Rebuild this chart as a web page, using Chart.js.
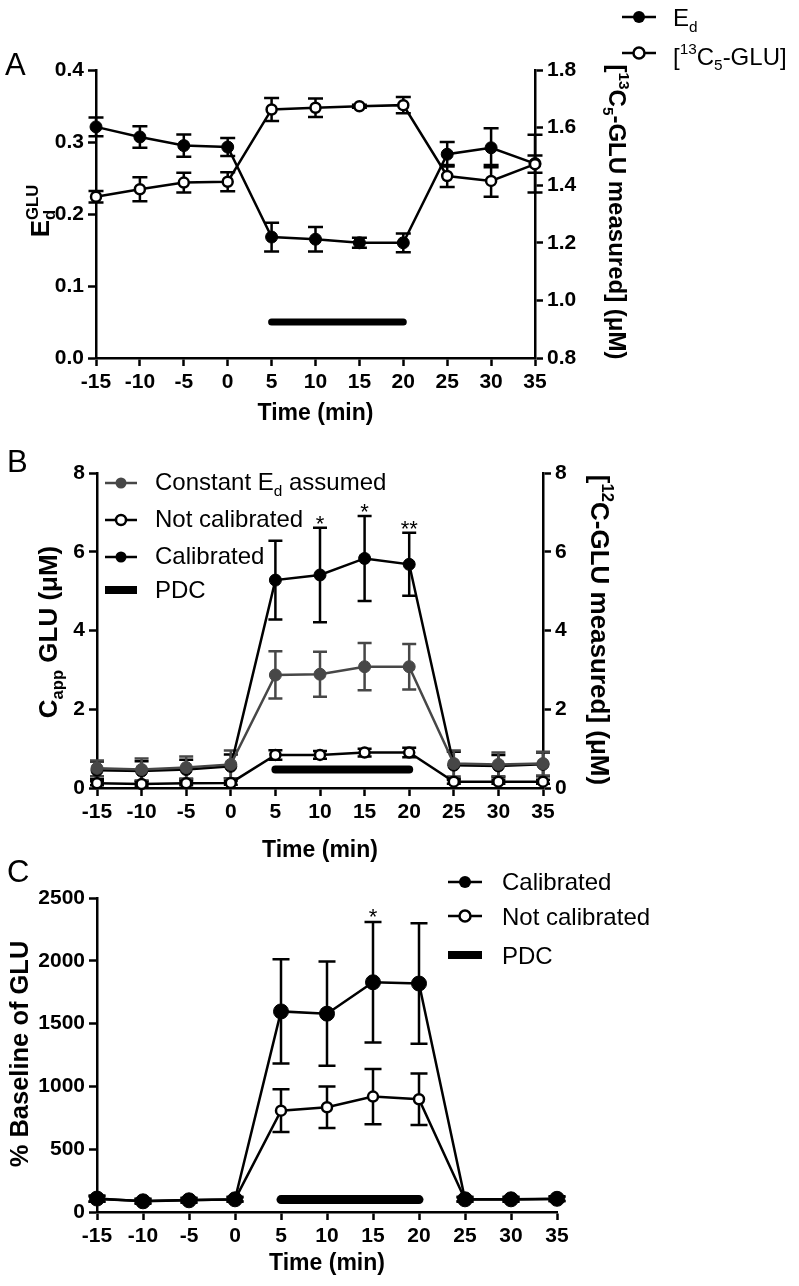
<!DOCTYPE html>
<html><head><meta charset="utf-8">
<script src="https://cdn.jsdelivr.net/npm/chart.js@4.4.1/dist/chart.umd.min.js"></script>
<style>
html,body{margin:0;padding:0;background:#fff;}
#wrap{position:relative;width:799px;height:1286px;overflow:hidden;background:#fff;}
canvas{position:absolute;left:0;}
</style></head>
<body><div id="wrap">
<canvas id="cA" width="799" height="440" style="top:0px"></canvas>
<canvas id="cB" width="799" height="450" style="top:420px"></canvas>
<canvas id="cC" width="799" height="436" style="top:850px"></canvas>
</div>
<script>
// ---------- DATA ----------
const timeMin = [-15,-10,-5,0,5,10,15,20,25,30,35];
const xTicks  = [-15,-10,-5,0,5,10,15,20,25,30,35];
// Panel A
const aEdMean  = [0.321,0.307,0.295,0.293,0.168,0.165,0.160,0.160,0.283,0.292,0.270];
const aEdErr   = [0.013,0.015,0.0155,0.0125,0.020,0.017,0.007,0.013,0.017,0.027,0.040];
const aGluMean = [1.360,1.386,1.409,1.412,1.663,1.669,1.674,1.678,1.432,1.415,1.473];
const aGluErr  = [0.020,0.042,0.034,0.033,0.040,0.032,0.005,0.028,0.038,0.055,0.030];
const aLeftTicks  = [0,0.1,0.2,0.3,0.4];
const aRightTicks = [0.8,1.0,1.2,1.4,1.6,1.8];
// Panel B
const bConstMean  = [0.50,0.47,0.52,0.60,2.87,2.89,3.08,3.08,0.62,0.60,0.62];
const bConstErr   = [0.20,0.28,0.28,0.35,0.60,0.57,0.60,0.58,0.33,0.30,0.30];
const bNotCalMean = [0.12,0.10,0.12,0.13,0.84,0.84,0.90,0.90,0.16,0.16,0.16];
const bNotCalErr  = [0.05,0.05,0.05,0.05,0.12,0.10,0.10,0.12,0.05,0.05,0.05];
const bCalMean    = [0.45,0.43,0.47,0.55,5.28,5.41,5.83,5.68,0.58,0.56,0.60];
const bCalErr     = [0.22,0.25,0.25,0.30,1.00,1.20,1.08,0.80,0.34,0.28,0.30];
const bTicks = [0,2,4,6,8];
const bStarTimes = [10,15,20];
const bStarLabels = ['*','*','**'];
// Panel C
const cCalMean    = [107,85,93,101,1597,1579,1829,1819,101,101,105];
const cCalErr     = [25,20,20,20,415,415,480,480,20,20,20];
const cNotCalMean = [103,88,95,100,807,834,919,898,100,100,104];
const cNotCalErr  = [20,15,15,15,170,165,220,205,15,15,15];
const cTicks = [0,500,1000,1500,2000,2500];
const cStarTimes = [15];
const cStarLabels = ['*'];
// PDC application period
const pdcStartEnd = [5,20];
const aPdcLevel = 0.05, bPdcLevel = 0.47, cPdcLevel = 99;

// ---------- HELPERS ----------
const FF = '"Liberation Sans", Arial, Helvetica, sans-serif';
const tickFont = {family: FF, size: 21, weight: 'bold'};
const GRAY = '#474747';

function rich(ctx, segs, x, y, size, bold, rot, align){
  ctx.save();
  ctx.translate(x,y); ctx.rotate(rot||0);
  ctx.fillStyle='#000'; ctx.textBaseline='alphabetic'; ctx.textAlign='left';
  const wt = bold ? 'bold ' : '';
  const parts = segs.map(([t,m])=>{
    const sz = m==='n' ? size : size*0.64;
    ctx.font = wt + sz + 'px ' + FF;
    return {t, m, sz, w: ctx.measureText(t).width};
  });
  let total = 0;
  parts.forEach(p=>{ if(p.m!=='sub0') total += p.w; });
  let cx = align==='center' ? -total/2 : 0;
  parts.forEach(p=>{
    ctx.font = wt + p.sz + 'px ' + FF;
    let dy = 0;
    if(p.m==='sup') dy = -size*0.42;
    if(p.m==='sub' || p.m==='sub0') dy = size*0.24;
    ctx.fillText(p.t, cx, dy);
    if(p.m!=='sub0') cx += p.w;
  });
  ctx.restore();
}
function legendRow(ctx, x1, x2, y, kind, color, r){
  ctx.save();
  if(kind==='bar'){ ctx.fillStyle='#000'; ctx.fillRect(x1, y-4, x2-x1, 8); }
  else {
    ctx.strokeStyle=color; ctx.lineWidth=2.5;
    ctx.beginPath(); ctx.moveTo(x1,y); ctx.lineTo(x2,y); ctx.stroke();
    ctx.beginPath(); ctx.arc((x1+x2)/2, y, r, 0, Math.PI*2);
    if(kind==='open'){ ctx.fillStyle='#fff'; ctx.fill(); ctx.strokeStyle='#000'; ctx.lineWidth=2.5; ctx.stroke(); }
    else { ctx.fillStyle=color; ctx.fill(); }
  }
  ctx.restore();
}
function errPlugin(specs){
  return {id:'errbars', beforeDatasetsDraw(chart){
    const ctx = chart.ctx, xs = chart.scales.x;
    specs.forEach(s=>{
      const ys = chart.scales[s.axis];
      ctx.save(); ctx.strokeStyle = s.color; ctx.lineWidth = s.lw; ctx.lineCap='butt';
      s.mean.forEach((m,i)=>{
        const e = s.err[i];
        const px = xs.getPixelForValue(timeMin[i]);
        const t = ys.getPixelForValue(m+e), b = ys.getPixelForValue(m-e);
        ctx.beginPath();
        ctx.moveTo(px,t); ctx.lineTo(px,b);
        ctx.moveTo(px-s.cap/2,t); ctx.lineTo(px+s.cap/2,t);
        ctx.moveTo(px-s.cap/2,b); ctx.lineTo(px+s.cap/2,b);
        ctx.stroke();
      });
      ctx.restore();
    });
  }};
}
function starsDraw(ctx, chart, times, labels, mean, err, axis, gap){
  const xs = chart.scales.x, ys = chart.scales[axis];
  ctx.save(); ctx.fillStyle='#000'; ctx.textAlign='center'; ctx.textBaseline='alphabetic';
  ctx.font = '22px ' + FF;
  times.forEach((t,k)=>{
    const i = timeMin.indexOf(t);
    const px = xs.getPixelForValue(t);
    const top = ys.getPixelForValue(mean[i] + err[i]);
    ctx.fillText(labels[k], px, top - gap + 12.5);
  });
  ctx.restore();
}
function textPlugin(fn){ return {id:'txt', afterDraw(chart){ const ctx=chart.ctx; ctx.save(); fn(ctx, chart); ctx.restore(); }}; }

function series(label, mean, axis, o){
  return Object.assign({label, data: mean.map((v,i)=>({x:timeMin[i], y:v})), yAxisID: axis,
    borderColor:'#000', borderWidth:2.5, pointRadius:6, pointBackgroundColor:'#000', pointBorderColor:'#000',
    pointBorderWidth:1, tension:0, clip:false, fill:false}, o);
}
function pdc(level, axis, w){
  return {label:'PDC', data: pdcStartEnd.map(t=>({x:t, y:level})), yAxisID: axis, borderColor:'#000',
    borderWidth:w, pointRadius:0, borderCapStyle:'round', clip:false, order:10};
}
function xScale(){
  return {type:'linear', min:-15, max:35,
    afterBuildTicks: s=>{ s.ticks = xTicks.map(v=>({value:v})); },
    afterFit: s=>{ s.height = 40; },
    ticks:{font:tickFont, color:'#000', padding:4, autoSkip:false, maxRotation:0, callback: v=>String(v)},
    grid:{drawOnChartArea:false, drawTicks:true, tickLength:8, tickColor:'#000', tickWidth:2.5, color:'#000'},
    border:{display:true, color:'#000', width:2.5}};
}
function yScale(pos, min, max, ticksArr, fmt){
  return {type:'linear', position:pos, min, max,
    afterBuildTicks: s=>{ s.ticks = ticksArr.map(v=>({value:v})); },
    afterFit: s=>{ s.width = 60; },
    ticks:{font:tickFont, color:'#000', padding:4, autoSkip:false, callback: fmt},
    grid:{drawOnChartArea:false, drawTicks:true, tickLength:8, tickColor:'#000', tickWidth:2.5, color:'#000'},
    border:{display:true, color:'#000', width:2.5}};
}
const baseOpts = (pad, scales)=>({responsive:false, animation:false, devicePixelRatio:1,
  layout:{padding:pad}, scales, plugins:{legend:{display:false}, tooltip:{enabled:false}}});

// ---------- PANEL A ----------
new Chart(document.getElementById('cA'), {
  type:'line',
  data:{datasets:[
    series('Ed', aEdMean, 'y', {order:2}),
    series('[13C5-GLU]', aGluMean, 'y2', {pointBackgroundColor:'#fff', pointBorderWidth:2.5, pointRadius:5, order:1}),
    pdc(aPdcLevel, 'y', 7)
  ]},
  options: baseOpts({left:36, right:204, top:70, bottom:42}, {
    x: xScale(),
    y: yScale('left', 0, 0.4, aLeftTicks, v=>v.toFixed(1)),
    y2: yScale('right', 0.8, 1.8, aRightTicks, v=>v.toFixed(1))
  }),
  plugins:[
    errPlugin([
      {axis:'y', mean:aEdMean, err:aEdErr, color:'#000', lw:2.5, cap:15},
      {axis:'y2', mean:aGluMean, err:aGluErr, color:'#000', lw:2.5, cap:15}
    ]),
    textPlugin((ctx)=>{
      ctx.fillStyle='#000'; ctx.font='31px '+FF; ctx.fillText('A', 5, 75);
      rich(ctx, [['E','n'],['d','sub0'],['GLU','sup']], 49, 211, 26, true, -Math.PI/2, 'center');
      rich(ctx, [['[','n'],['13','sup'],['C','n'],['5','sub'],['-GLU measured] (μM)','n']], 609, 212, 24, true, Math.PI/2, 'center');
      rich(ctx, [['Time (min)','n']], 315.5, 420, 23, true, 0, 'center');
      legendRow(ctx, 622, 656, 17, 'filled', '#000', 6);
      rich(ctx, [['E','n'],['d','sub']], 673, 26, 24, false, 0, 'left');
      legendRow(ctx, 622, 656, 53, 'open', '#000', 5.5);
      rich(ctx, [['[','n'],['13','sup'],['C','n'],['5','sub'],['-GLU]','n']], 673, 64.5, 24, false, 0, 'left');
    })
  ]
});

// ---------- PANEL B ----------
new Chart(document.getElementById('cB'), {
  type:'line',
  data:{datasets:[
    series('Constant Ed assumed', bConstMean, 'y', {borderColor:GRAY, pointBackgroundColor:GRAY, pointBorderColor:GRAY, order:2}),
    series('Not calibrated', bNotCalMean, 'y2', {pointBackgroundColor:'#fff', pointBorderWidth:2.5, pointRadius:5, order:1}),
    series('Calibrated', bCalMean, 'y', {order:3}),
    pdc(bPdcLevel, 'y', 8)
  ]},
  options: baseOpts({left:37, right:196, top:53, bottom:42}, {
    x: xScale(),
    y: yScale('left', 0, 8, bTicks, v=>String(v)),
    y2: yScale('right', 0, 8, bTicks, v=>String(v))
  }),
  plugins:[
    errPlugin([
      {axis:'y', mean:bCalMean, err:bCalErr, color:'#000', lw:2.5, cap:14},
      {axis:'y', mean:bConstMean, err:bConstErr, color:GRAY, lw:2.5, cap:14},
      {axis:'y2', mean:bNotCalMean, err:bNotCalErr, color:'#000', lw:2.5, cap:14}
    ]),
    textPlugin((ctx, chart)=>{
      ctx.fillStyle='#000'; ctx.font='31px '+FF; ctx.fillText('B', 7, 52);
      rich(ctx, [['C','n'],['app','sub'],[' GLU (μM)','n']], 57, 212, 26, true, -Math.PI/2, 'center');
      rich(ctx, [['[','n'],['12','sup'],['C-GLU measured] (μM)','n']], 591, 210, 26, true, Math.PI/2, 'center');
      rich(ctx, [['Time (min)','n']], 320, 437, 23, true, 0, 'center');
      legendRow(ctx, 105, 137, 63, 'filled', GRAY, 5.5);
      rich(ctx, [['Constant E','n'],['d','sub'],[' assumed','n']], 155, 70, 24, false, 0, 'left');
      legendRow(ctx, 105, 137, 100, 'open', '#000', 5);
      rich(ctx, [['Not calibrated','n']], 155, 107, 24, false, 0, 'left');
      legendRow(ctx, 105, 137, 137, 'filled', '#000', 5.5);
      rich(ctx, [['Calibrated','n']], 155, 144, 24, false, 0, 'left');
      legendRow(ctx, 105, 137, 170, 'bar', '#000', 0);
      rich(ctx, [['PDC','n']], 155, 178, 24, false, 0, 'left');
      starsDraw(ctx, chart, bStarTimes, bStarLabels, bCalMean, bCalErr, 'y', 9);
    })
  ]
});

// ---------- PANEL C ----------
new Chart(document.getElementById('cC'), {
  type:'line',
  data:{datasets:[
    series('Calibrated', cCalMean, 'y', {pointRadius:7.5, order:1}),
    series('Not calibrated', cNotCalMean, 'y', {pointBackgroundColor:'#fff', pointBorderWidth:2.5, pointRadius:5, order:2}),
    pdc(cPdcLevel, 'y', 9)
  ]},
  options: baseOpts({left:37, right:242, top:48, bottom:34}, {
    x: xScale(),
    y: yScale('left', 0, 2500, cTicks, v=>String(v))
  }),
  plugins:[
    errPlugin([
      {axis:'y', mean:cCalMean, err:cCalErr, color:'#000', lw:2.5, cap:17},
      {axis:'y', mean:cNotCalMean, err:cNotCalErr, color:'#000', lw:2.5, cap:17}
    ]),
    textPlugin((ctx, chart)=>{
      ctx.fillStyle='#000'; ctx.font='31px '+FF; ctx.fillText('C', 7, 32);
      rich(ctx, [['% Baseline of GLU','n']], 28, 204, 25.5, true, -Math.PI/2, 'center');
      rich(ctx, [['Time (min)','n']], 327, 420, 23, true, 0, 'center');
      legendRow(ctx, 448, 482, 32, 'filled', '#000', 6);
      rich(ctx, [['Calibrated','n']], 502, 40, 24, false, 0, 'left');
      legendRow(ctx, 448, 482, 66, 'open', '#000', 5.5);
      rich(ctx, [['Not calibrated','n']], 502, 75, 24, false, 0, 'left');
      legendRow(ctx, 448, 482, 105, 'bar', '#000', 0);
      rich(ctx, [['PDC','n']], 502, 114, 24, false, 0, 'left');
      starsDraw(ctx, chart, cStarTimes, cStarLabels, cCalMean, cCalErr, 'y', 10);
    })
  ]
});
</script>
</body></html>
